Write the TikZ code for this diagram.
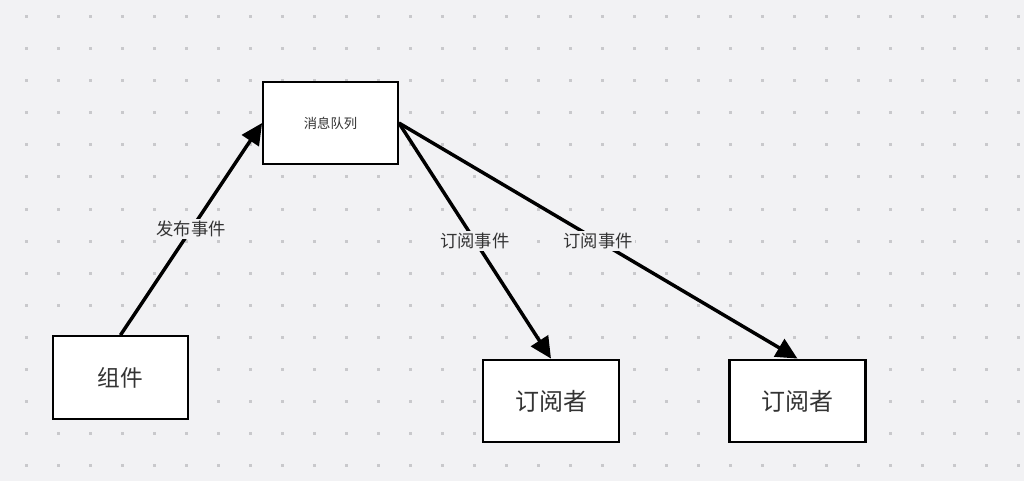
\documentclass[tikz,border=0pt]{standalone}
\usepackage{fontspec}
\newfontfamily\cjk{Noto Sans CJK SC}
\usetikzlibrary{arrows.meta}
\definecolor{bgc}{HTML}{F2F2F4}
\definecolor{dotc}{HTML}{C9C9CC}
\definecolor{txtc}{HTML}{333333}
\tikzset{pin/.style={line width=2.6pt, -{Triangle[length=16pt,width=15pt]}},
  box/.style={draw, fill=white, line width=1.6pt, inner sep=0pt, text=txtc, font=\cjk},
  lbl/.style={fill=bgc, inner sep=1.5pt, text=txtc, font=\cjk\fontsize{13}{15}\selectfont}}

\begin{document}
\begin{tikzpicture}[x=0.75pt, y=-0.75pt]
  % canvas and dot grid
  \fill[bgc] (0,0) rectangle (1024,481);
  \useasboundingbox (0,0) rectangle (1024,481);
  \foreach \i in {0,...,31}{\foreach \j in {0,...,14}{\fill[dotc] ({24.5+32*\i},{15.5+32*\j}) rectangle ++(3,3);}}
  % boxes
  \node[box, minimum width=101pt, minimum height=62pt, font=\cjk\fontsize{10}{12}\selectfont] (mq) at (330.5,123) {消息队列};
  \node[box, minimum width=101pt, minimum height=62pt, font=\cjk\fontsize{17}{20}\selectfont] (comp) at (120.5,377.5) {组件};
  \node[box, minimum width=102pt, minimum height=62pt, font=\cjk\fontsize{18}{21}\selectfont] (sub1) at (551,401) {订阅者};
  \node[box, minimum width=102pt, minimum height=62pt, font=\cjk\fontsize{18}{21}\selectfont] (sub2) at (797.5,401) {订阅者};
  % publish / subscribe
  \draw[pin] (comp.north) -- (mq.west) node[lbl, pos=0.5] {发布事件};
  \draw[pin] (mq.east) -- (sub1.north) node[lbl, pos=0.5] {订阅事件};
  \draw[pin] (mq.east) -- (sub2.north) node[lbl, pos=0.5] {订阅事件};
\end{tikzpicture}
\end{document}
